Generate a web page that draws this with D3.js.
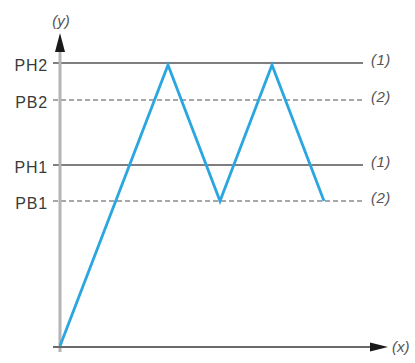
<!DOCTYPE html>
<html><head><meta charset="utf-8">
<script src="https://cdn.jsdelivr.net/npm/d3@7"></script>
<style>html,body{margin:0;padding:0;background:#fff;}</style>
</head><body>
<script>
// Threshold levels (abstract units)
const levelNames = ["PH2", "PB2", "PH1", "PB1"];
const levelValues = [2.83, 2.46, 1.81, 1.45];
const levelTags = ["(1)", "(2)", "(1)", "(2)"];
const levelDashed = [false, true, false, true];
// Blue signal
const signalX = [0, 2.7, 4.0, 5.3, 6.6];
const signalY = [0, 2.81, 1.45, 2.81, 1.45];

const W = 415, H = 363;
const svg = d3.select("body").append("svg").attr("width", W).attr("height", H);
const x = d3.scaleLinear().domain([0, 8.2]).range([60, 388]);
const y = d3.scaleLinear().domain([0, 3]).range([346, 46]);

const font = "Arial, 'Liberation Sans', sans-serif";

// horizontal level lines
levelValues.forEach((v, i) => {
  svg.append("line")
    .attr("x1", 53).attr("x2", 363)
    .attr("y1", y(v)).attr("y2", y(v))
    .attr("stroke", levelDashed[i] ? "#8a8a8a" : "#555")
    .attr("stroke-width", levelDashed[i] ? 1.3 : 1.6)
    .attr("stroke-dasharray", levelDashed[i] ? "5,3" : null);
  svg.append("text")
    .attr("x", 48).attr("y", y(v) + 8)
    .attr("text-anchor", "end")
    .attr("font-family", font).attr("font-size", 16).attr("letter-spacing", 0.8).attr("fill", "#3a3a3a")
    .text(levelNames[i]);
  svg.append("text")
    .attr("x", 371).attr("y", y(v) + 2)
    .attr("font-family", font).attr("font-size", 15).attr("font-style", "italic").attr("fill", "#555")
    .attr("letter-spacing", 0.5)
    .text(levelTags[i]);
});

// y axis
svg.append("line").attr("x1", 60).attr("x2", 60).attr("y1", 352).attr("y2", 50)
  .attr("stroke", "#b4b4b4").attr("stroke-width", 3);
svg.append("path").attr("d", "M60,33 L55,52 L65,52 Z").attr("fill", "#1a1a1a");
svg.append("text").attr("x", 61).attr("y", 26).attr("text-anchor", "middle")
  .attr("font-family", font).attr("font-size", 15).attr("font-style", "italic").attr("fill", "#555")
  .text("(y)");

// x axis
svg.append("line").attr("x1", 53).attr("x2", 372).attr("y1", y(0)+1).attr("y2", y(0)+1)
  .attr("stroke", "#6a6a6a").attr("stroke-width", 2);
svg.append("path").attr("d", `M388,${y(0)+1} L370,${y(0)-3.5} L370,${y(0)+5.5} Z`).attr("fill", "#1a1a1a");
svg.append("text").attr("x", 392).attr("y", y(0)+6)
  .attr("font-family", font).attr("font-size", 15).attr("font-style", "italic").attr("fill", "#555")
  .text("(x)");

// signal
const line = d3.line().x((d, i) => x(signalX[i])).y((d, i) => y(signalY[i]));
svg.append("path").datum(signalX).attr("d", line)
  .attr("fill", "none").attr("stroke", "#2aa6e0").attr("stroke-width", 2.8)
  .attr("stroke-linejoin", "miter");
</script>
</body></html>
